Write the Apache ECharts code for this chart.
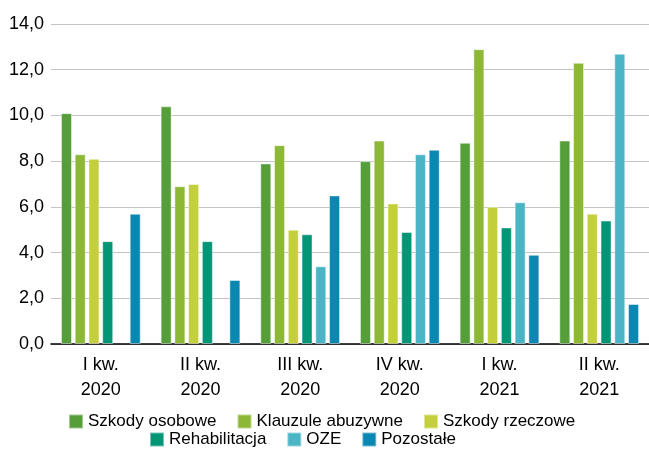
<!DOCTYPE html>
<html>
<head>
<meta charset="utf-8">
<script src="https://cdn.jsdelivr.net/npm/echarts@6/dist/echarts.min.js"></script>
<style>
    html, body {margin: 0; padding: 0; background: #fff;}
    #main {width: 649px; height: 459px;}
</style>
</head>
<body>
<div id="main"></div>
<script>
    const categories = ['I kw.\n2020', 'II kw.\n2020', 'III kw.\n2020', 'IV kw.\n2020', 'I kw.\n2021', 'II kw.\n2021'];
    const y_ticks = [0, 2, 4, 6, 8, 10, 12, 14];

    const szkody_osobowe = [10.1, 10.4, 7.9, 8.0, 8.8, 8.9];
    const klauzule_abuzywne = [8.3, 6.9, 8.7, 8.9, 12.9, 12.3];
    const szkody_rzeczowe = [8.1, 7.0, 5.0, 6.15, 6.0, 5.7];
    const rehabilitacja = [4.5, 4.5, 4.8, 4.9, 5.1, 5.4];
    const oze = [null, null, 3.4, 8.3, 6.2, 12.7];
    const pozostale = [5.7, 2.8, 6.5, 8.5, 3.9, 1.75];

    const series_names = ['Szkody osobowe', 'Klauzule abuzywne', 'Szkody rzeczowe', 'Rehabilitacja', 'OZE', 'Pozostałe'];
    const series_data = [szkody_osobowe, klauzule_abuzywne, szkody_rzeczowe, rehabilitacja, oze, pozostale];
    const colors = ['#559e3a', '#8cb836', '#c3d03b', '#039676', '#4bb5c6', '#0a88b1'];

    const font = '"Liberation Sans", Arial, sans-serif';

    let chart = echarts.init(document.getElementById('main'), null, {renderer: 'canvas'});

    let legend_common = {
        orient: 'horizontal', itemWidth: 14, itemHeight: 14, itemGap: 20, icon: 'rect', width: 640,
        textStyle: {fontFamily: font, fontSize: 17, color: '#000', padding: [0, 0, 0, 0]},
        padding: 0,
    };

    chart.setOption({
        animation: false,
        color: colors,
        grid: {left: 51, right: -2, top: 24, bottom: 115, containLabel: false},
        legend: [
            Object.assign({}, legend_common, {data: series_names.slice(0, 3), left: 68, top: 413}),
            Object.assign({}, legend_common, {data: series_names.slice(3), left: 149, top: 431}),
        ],
        xAxis: {
            type: 'category', data: categories,
            axisLine: {lineStyle: {color: '#000', width: 1.5}},
            axisTick: {show: false},
            axisLabel: {fontFamily: font, fontSize: 18, color: '#000', lineHeight: 25, margin: 9},
        },
        yAxis: {
            type: 'value', min: y_ticks[0], max: y_ticks[y_ticks.length - 1], interval: 2,
            axisLine: {show: false}, axisTick: {show: false},
            splitLine: {lineStyle: {color: '#c4c4c4', width: 1}},
            axisLabel: {
                fontFamily: font, fontSize: 18, color: '#000', margin: 7,
                formatter: v => v.toFixed(1).replace('.', ','),
            },
        },
        series: series_names.map((name, i) => ({
            name: name, type: 'bar', data: series_data[i],
            barCategoryGap: '20%', barGap: '25%',
            itemStyle: {color: colors[i], borderColor: 'rgba(255,255,255,0.45)', borderWidth: 1},
        })),
    });
</script>
</body>
</html>
